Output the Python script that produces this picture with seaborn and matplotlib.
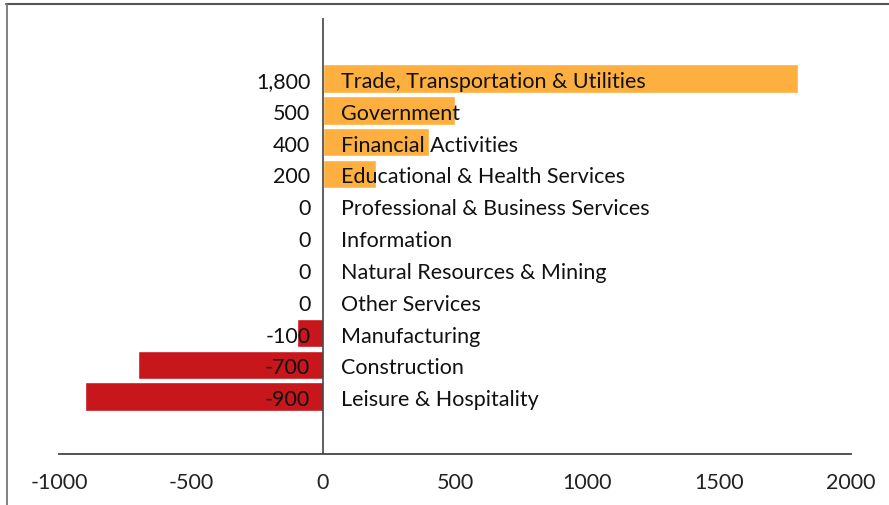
import matplotlib
matplotlib.use("Agg")
import matplotlib.pyplot as plt
import seaborn as sns
import pandas as pd
from matplotlib.lines import Line2D

# data
categories = ['Trade, Transportation & Utilities', 'Government', 'Financial Activities',
              'Educational & Health Services', 'Professional & Business Services',
              'Information', 'Natural Resources & Mining', 'Other Services',
              'Manufacturing', 'Construction', 'Leisure & Hospitality']
values = [1800, 500, 400, 200, 0, 0, 0, 0, -100, -700, -900]
x_ticks = [-1000, -500, 0, 500, 1000, 1500, 2000]

df = pd.DataFrame({'category': categories, 'value': values})
df['sign'] = ['pos' if v >= 0 else 'neg' for v in values]

sns.set_style('white')
plt.rcParams['font.family'] = ['Lato', 'DejaVu Sans']

W, H = 889, 506
fig = plt.figure(figsize=(W / 100, H / 100), dpi=100)
ax = fig.add_axes([59 / W, 1 - 455 / H, (851 - 59) / W, (455 - 19) / H])

sns.barplot(data=df, x='value', y='category', hue='sign', orient='h',
            palette={'pos': '#fdb03f', 'neg': '#c8161d'}, dodge=False,
            width=0.9, legend=False, saturation=1, ax=ax)

ax.set_xlim(-1000, 2000)
ax.set_ylim(len(categories) - 1 + 1.8, -1.9)
ax.set_xticks(x_ticks)
ax.set_xticklabels([str(t) for t in x_ticks], fontsize=15.5, color='#222222')
ax.tick_params(axis='x', length=0, pad=13)
ax.set_yticks([])
ax.set_xlabel('')
ax.set_ylabel('')
for s in ['top', 'right', 'left']:
    ax.spines[s].set_visible(False)
ax.spines['bottom'].set_color('#444444')
ax.spines['bottom'].set_linewidth(1.3)
ax.axvline(0, color='#444444', lw=1.2)

# labels: value on the left of zero, name on the right
for i, (c, v) in enumerate(zip(categories, values)):
    ax.text(-48, i + 0.08, f'{v:,}', ha='right', va='center', fontsize=15.5, color='#111111')
    ax.text(68, i + 0.08, c, ha='left', va='center', fontsize=15.5, color='#111111')

# frame around the figure (cropped on right/bottom)
fig.add_artist(Line2D([6 / W, 1], [1 - 4.5 / H, 1 - 4.5 / H], color='#555555', lw=1.5,
                      transform=fig.transFigure))
fig.add_artist(Line2D([6.5 / W, 6.5 / W], [0, 1 - 4.5 / H], color='#777777', lw=1.3,
                      transform=fig.transFigure))

fig.savefig('out.png', dpi=100)
